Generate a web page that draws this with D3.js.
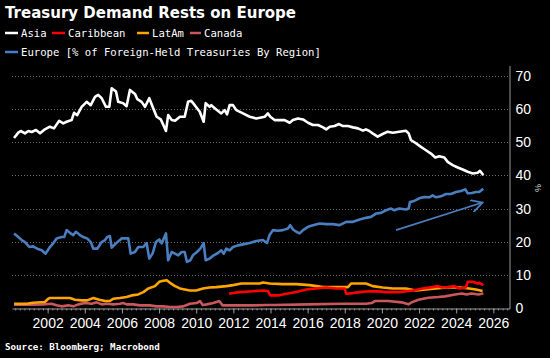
<!DOCTYPE html>
<html>
<head>
<meta charset="utf-8">
<script src="https://cdn.jsdelivr.net/npm/d3@7"></script>
<style>
  body { margin: 0; background: #000; }
  svg { display: block; }
</style>
</head>
<body>
<svg id="chart"></svg>
<script>
// share of foreign-held Treasuries by region, [decimal year, %]
const asia = [[2000.19,51.3],[2000.42,52.9],[2000.55,53.4],[2000.78,52.7],[2000.96,53.4],[2001.14,53.1],[2001.37,53.7],[2001.59,52.7],[2001.85,53.9],[2002.12,54.7],[2002.34,54.2],[2002.62,56.5],[2002.84,55.7],[2003.02,56.2],[2003.29,56.7],[2003.42,58.9],[2003.59,58.2],[2003.83,60.7],[2004.10,62.2],[2004.32,61.2],[2004.55,63.7],[2004.72,64.3],[2004.91,63.3],[2005.14,60.7],[2005.32,60.7],[2005.45,66.3],[2005.68,65.3],[2005.80,62.2],[2006.07,61.8],[2006.25,60.9],[2006.43,65.8],[2006.70,64.6],[2006.83,63.0],[2007.06,62.2],[2007.24,60.7],[2007.47,63.3],[2007.69,60.2],[2007.87,57.7],[2008.09,56.9],[2008.23,55.2],[2008.37,53.4],[2008.49,58.2],[2008.68,56.7],[2008.86,56.5],[2009.12,57.7],[2009.38,57.7],[2009.56,62.2],[2009.73,62.5],[2009.92,61.2],[2010.19,59.2],[2010.40,56.2],[2010.51,61.8],[2010.72,60.7],[2010.81,61.2],[2011.08,59.9],[2011.35,58.7],[2011.53,59.7],[2011.66,58.4],[2011.80,61.2],[2011.98,61.2],[2012.16,59.7],[2012.52,58.7],[2012.88,57.7],[2013.23,57.2],[2013.50,57.5],[2013.69,57.7],[2013.86,58.7],[2013.99,57.7],[2014.22,56.7],[2014.49,56.7],[2014.76,56.7],[2015.03,55.9],[2015.21,56.7],[2015.48,57.2],[2015.75,56.9],[2016.02,55.9],[2016.29,55.2],[2016.56,55.2],[2016.83,54.5],[2017.00,53.9],[2017.19,54.7],[2017.45,54.9],[2017.69,55.5],[2017.90,54.9],[2018.17,54.9],[2018.44,54.5],[2018.71,54.2],[2018.98,53.5],[2019.14,53.9],[2019.32,53.4],[2019.50,52.7],[2019.77,51.7],[2020.04,52.5],[2020.31,53.2],[2020.58,52.9],[2020.93,53.2],[2021.29,53.5],[2021.44,52.7],[2021.56,50.7],[2021.83,49.7],[2022.10,48.6],[2022.37,47.6],[2022.64,46.6],[2022.87,45.4],[2023.09,45.8],[2023.36,45.4],[2023.54,44.1],[2023.81,43.1],[2024.08,42.4],[2024.35,41.8],[2024.62,41.1],[2024.89,40.6],[2025.16,40.8],[2025.28,41.4],[2025.46,40.1]];

const europe = [[2000.19,22.5],[2000.42,21.4],[2000.60,20.5],[2000.78,19.9],[2001.01,18.4],[2001.22,18.6],[2001.44,17.9],[2001.68,17.4],[2001.89,16.4],[2002.12,18.4],[2002.30,19.5],[2002.48,21.0],[2002.75,21.4],[2002.89,21.4],[2003.02,23.5],[2003.24,22.5],[2003.38,22.0],[2003.52,23.0],[2003.74,22.0],[2003.92,21.4],[2004.13,21.0],[2004.32,19.9],[2004.46,17.9],[2004.67,17.9],[2004.91,19.9],[2005.09,20.5],[2005.21,21.4],[2005.35,21.7],[2005.45,18.2],[2005.68,19.5],[2005.89,20.5],[2005.98,21.0],[2006.16,21.0],[2006.34,21.0],[2006.47,16.4],[2006.70,16.9],[2006.88,18.4],[2007.15,18.4],[2007.33,19.6],[2007.47,14.9],[2007.65,16.4],[2007.83,19.9],[2008.01,20.7],[2008.14,19.5],[2008.37,22.5],[2008.49,14.4],[2008.68,16.9],[2008.86,16.4],[2009.03,15.9],[2009.22,16.9],[2009.38,16.9],[2009.50,13.9],[2009.68,14.4],[2009.82,15.9],[2010.04,16.9],[2010.22,17.9],[2010.40,19.6],[2010.51,14.4],[2010.72,14.9],[2010.94,15.9],[2011.17,16.6],[2011.35,17.4],[2011.48,16.4],[2011.62,17.9],[2011.80,17.4],[2011.98,18.4],[2012.25,18.9],[2012.52,19.2],[2012.88,19.6],[2013.23,20.2],[2013.59,20.5],[2013.81,19.6],[2013.95,22.0],[2014.13,23.5],[2014.40,23.3],[2014.67,23.5],[2014.94,24.0],[2015.06,25.0],[2015.21,23.7],[2015.39,23.0],[2015.57,22.5],[2015.75,23.5],[2016.02,24.5],[2016.29,25.0],[2016.65,25.5],[2017.00,25.3],[2017.36,25.3],[2017.72,25.0],[2018.08,26.0],[2018.44,26.0],[2018.80,26.7],[2019.14,27.2],[2019.41,27.5],[2019.68,28.5],[2019.95,28.7],[2020.22,29.5],[2020.49,30.0],[2020.66,29.5],[2020.93,30.0],[2021.29,29.7],[2021.44,30.0],[2021.51,32.0],[2021.74,32.3],[2022.01,33.1],[2022.28,33.5],[2022.55,33.4],[2022.73,34.0],[2022.91,33.4],[2023.18,33.7],[2023.45,34.4],[2023.72,34.4],[2023.99,35.0],[2024.26,35.3],[2024.49,35.8],[2024.62,34.6],[2024.85,34.7],[2025.06,35.0],[2025.24,35.0],[2025.46,36.0]];

const latam = [[2000.19,1.3],[2000.51,1.3],[2000.87,1.3],[2001.22,1.6],[2001.85,1.8],[2002.03,2.8],[2002.12,3.0],[2002.57,3.0],[2003.20,3.0],[2003.47,2.5],[2003.83,2.3],[2004.13,2.3],[2004.46,3.0],[2004.78,2.5],[2005.09,2.1],[2005.35,2.1],[2005.53,2.8],[2005.89,3.0],[2006.25,3.3],[2006.52,3.8],[2006.88,4.1],[2007.15,4.8],[2007.42,5.9],[2007.78,6.6],[2008.01,7.9],[2008.23,8.2],[2008.41,8.4],[2008.59,7.6],[2008.86,6.6],[2009.12,5.9],[2009.65,5.3],[2010.00,5.3],[2010.36,5.9],[2010.72,6.2],[2011.08,6.3],[2011.62,6.6],[2011.98,6.9],[2012.43,7.4],[2012.88,7.4],[2013.42,7.4],[2013.59,7.7],[2013.95,7.4],[2014.67,7.2],[2015.39,7.2],[2016.11,6.9],[2016.83,6.3],[2017.54,6.3],[2018.17,6.3],[2018.35,7.4],[2019.14,7.4],[2019.50,6.6],[2020.04,6.2],[2020.58,5.9],[2021.29,5.9],[2021.83,5.3],[2022.37,5.6],[2022.91,5.9],[2023.63,6.3],[2024.17,6.2],[2024.70,5.9],[2025.06,5.6],[2025.42,5.1]];

const caribbean = [[2011.77,4.3],[2011.98,4.5],[2012.34,4.8],[2012.88,5.0],[2013.59,5.3],[2013.86,5.1],[2013.99,3.8],[2014.40,3.8],[2014.85,4.3],[2015.39,4.8],[2015.93,5.6],[2016.46,5.9],[2017.00,6.2],[2017.54,5.9],[2017.99,5.9],[2018.08,4.3],[2018.44,4.5],[2018.80,4.8],[2019.14,5.0],[2019.68,5.1],[2020.22,4.8],[2020.93,4.8],[2021.66,5.3],[2022.19,5.9],[2022.73,6.3],[2023.00,6.6],[2023.27,6.2],[2023.63,6.3],[2023.90,6.6],[2024.17,5.9],[2024.52,6.2],[2024.62,7.9],[2024.89,7.9],[2025.16,7.4],[2025.24,7.6],[2025.46,6.9]];

const canada = [[2000.19,1.0],[2001.05,1.0],[2001.76,1.1],[2002.21,1.3],[2002.48,0.8],[2002.75,0.5],[2003.11,0.8],[2003.38,0.5],[2003.65,1.1],[2004.01,1.5],[2004.37,1.3],[2004.64,1.7],[2004.91,1.1],[2005.18,1.3],[2005.53,1.1],[2005.89,1.3],[2006.07,1.5],[2006.25,1.1],[2006.61,1.1],[2006.97,0.8],[2007.51,0.8],[2007.87,0.5],[2008.23,0.5],[2008.59,0.3],[2008.95,0.3],[2009.30,0.5],[2009.66,1.3],[2010.02,1.5],[2010.20,2.1],[2010.35,0.9],[2010.56,1.1],[2010.92,1.5],[2011.24,2.1],[2011.42,0.8],[2011.82,0.8],[2012.35,0.8],[2013.07,0.8],[2013.79,0.9],[2014.24,0.9],[2016.03,1.1],[2017.83,1.3],[2019.14,1.3],[2019.45,1.5],[2019.62,2.1],[2020.34,2.1],[2021.06,1.7],[2021.42,1.1],[2021.60,1.7],[2021.96,2.5],[2022.50,3.1],[2023.03,3.3],[2023.40,3.5],[2023.94,4.1],[2024.30,4.4],[2024.55,4.1],[2024.83,4.4],[2025.19,4.1],[2025.46,4.4]];

// trend arrow drawn over Europe, [year, %]
const arrow = [[2020.76, 23.5], [2025.42, 31.8]];

const yTicks = [0, 10, 20, 30, 40, 50, 60, 70];
const xTicks = [2002, 2004, 2006, 2008, 2010, 2012, 2014, 2016, 2018, 2020, 2022, 2024, 2026];

const series = [
    {name: "Canada", data: canada, color: "#c9575c"},
    {name: "LatAm", data: latam, color: "#ffa500"},
    {name: "Caribbean", data: caribbean, color: "#ff0000"},
    {name: "Europe", data: europe, color: "#4a7ec0"},
    {name: "Asia", data: asia, color: "#ffffff"}
];

const width = 550, height = 358;
const plotLeft = 12, plotRight = 509.5, plotTop = 66, plotBottom = 308;

const svg = d3.select("#chart")
    .attr("width", width)
    .attr("height", height)
    .style("background", "#000");

const x = d3.scaleLinear().domain([2000.08, 2026.87]).range([plotLeft, plotRight]);
const y = d3.scaleLinear().domain([0, 70]).range([plotBottom, 76]);

// dotted gridlines
svg.append("g")
    .selectAll("line")
    .data(yTicks.filter(d => d > 0))
    .enter().append("line")
    .attr("x1", plotLeft).attr("x2", plotRight)
    .attr("y1", d => Math.round(y(d)) + 0.5)
    .attr("y2", d => Math.round(y(d)) + 0.5)
    .attr("stroke", "#6a6a6a")
    .attr("stroke-width", 1)
    .attr("stroke-dasharray", "1,2");

// minor quarterly ticks
const quarters = d3.range(2000.25, 2026.8, 0.25);
svg.append("g")
    .attr("transform", `translate(0,${plotBottom + 0.5})`)
    .call(d3.axisBottom(x).tickValues(quarters).tickSize(2).tickFormat(""))
    .call(g => g.select(".domain").remove())
    .call(g => g.selectAll("line").attr("stroke", "#8a8a8a"));

// x axis
const xAxis = svg.append("g")
    .attr("transform", `translate(0,${plotBottom + 0.5})`)
    .call(d3.axisBottom(x).tickValues(xTicks).tickSize(5).tickFormat(d3.format("d")).tickSizeOuter(0));
xAxis.select(".domain").attr("stroke", "#9a9a9a");
xAxis.selectAll("line").attr("stroke", "#9a9a9a");
xAxis.selectAll("text")
    .attr("y", 10)
    .attr("fill", "#fff")
    .style("font-family", "Liberation Sans, Arial, sans-serif")
    .style("font-size", "14px");

// y axis on the right
const yAxis = svg.append("g")
    .attr("transform", `translate(${plotRight},0)`)
    .call(d3.axisRight(y).tickValues(yTicks).tickSize(0).tickPadding(6));
yAxis.select(".domain").attr("d", `M0.5,${plotTop}V${plotBottom + 1}`).attr("stroke", "#9a9a9a");
yAxis.selectAll("text")
    .attr("fill", "#fff")
    .style("font-family", "Liberation Sans, Arial, sans-serif")
    .style("font-size", "14px");

svg.append("text")
    .attr("transform", `translate(541,188) rotate(-90)`)
    .attr("text-anchor", "middle")
    .attr("fill", "#ddd")
    .style("font-family", "Liberation Sans, Arial, sans-serif")
    .style("font-size", "9px")
    .text("%");

// lines
const line = d3.line()
    .x(d => x(d[0]))
    .y(d => y(d[1]));

svg.append("g")
    .selectAll("path")
    .data(series)
    .enter().append("path")
    .attr("d", d => line(d.data))
    .attr("fill", "none")
    .attr("stroke", d => d.color)
    .attr("stroke-width", 2.6)
    .attr("stroke-linejoin", "round");

// arrow
svg.append("defs").append("marker")
    .attr("id", "head")
    .attr("viewBox", "0 0 10 10")
    .attr("refX", 9).attr("refY", 5)
    .attr("markerWidth", 8).attr("markerHeight", 8)
    .attr("orient", "auto")
    .append("path")
    .attr("d", "M0,0L9,5L0,10")
    .attr("fill", "none")
    .attr("stroke", "#4a7ec0")
    .attr("stroke-width", 1.4);

svg.append("line")
    .attr("x1", x(arrow[0][0])).attr("y1", y(arrow[0][1]))
    .attr("x2", x(arrow[1][0])).attr("y2", y(arrow[1][1]))
    .attr("stroke", "#4a7ec0")
    .attr("stroke-width", 1.6)
    .attr("marker-end", "url(#head)");

// title
svg.append("text")
    .attr("x", 5).attr("y", 18)
    .attr("fill", "#fff")
    .style("font-family", "DejaVu Sans, Verdana, sans-serif")
    .style("font-weight", "bold")
    .style("font-size", "15px")
    .text("Treasury Demand Rests on Europe");

// legend
const legend = [
    {name: "Asia", color: "#ffffff", x: 5, y: 33, w: 13},
    {name: "Caribbean", color: "#ff0000", x: 52, y: 33, w: 13},
    {name: "LatAm", color: "#ffa500", x: 137, y: 33, w: 12},
    {name: "Canada", color: "#c9575c", x: 190, y: 33, w: 11},
    {name: "Europe [% of Foreign-Held Treasuries By Region]", color: "#4a7ec0", x: 5, y: 52, w: 13}
];
const lg = svg.append("g").selectAll("g").data(legend).enter().append("g");
lg.append("line")
    .attr("x1", d => d.x).attr("x2", d => d.x + d.w)
    .attr("y1", d => d.y).attr("y2", d => d.y)
    .attr("stroke", d => d.color)
    .attr("stroke-width", 2.5);
lg.append("text")
    .attr("x", d => d.x + d.w + 3)
    .attr("y", d => d.y + 3.5)
    .attr("fill", "#fff")
    .style("font-family", "DejaVu Sans Mono, monospace")
    .style("font-size", "10.6px")
    .text(d => d.name);

// source
svg.append("text")
    .attr("x", 5).attr("y", 350)
    .attr("fill", "#fff")
    .style("font-family", "DejaVu Sans Mono, monospace")
    .style("font-weight", "bold")
    .style("font-size", "9.2px")
    .text("Source: Bloomberg; Macrobond");
</script>
</body>
</html>
